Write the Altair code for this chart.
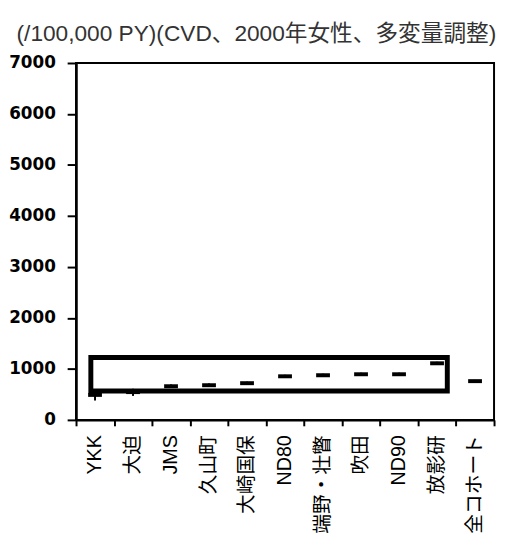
import altair as alt
import pandas as pd

categories = ["YKK", "大迫", "JMS", "久山町", "大崎国保", "ND80", "端野・壮瞥", "吹田", "ND90", "放影研", "全コホート"]
rates = [490, 545, 660, 680, 720, 855, 875, 895, 895, 1110, 760]
ci_low = [380, 470, 625, 645, 690, 825, 845, 865, 865, 1080, 735]
ci_high = [600, 610, 695, 715, 750, 885, 905, 925, 925, 1140, 785]

box_x = [0.39]
box_x2 = [9.77]
box_y = [565]
box_y2 = [1225]

y_ticks = [0, 1000, 2000, 3000, 4000, 5000, 6000, 7000]

df = pd.DataFrame({"cohort": categories, "rate": rates, "lo": ci_low, "hi": ci_high})
box = pd.DataFrame({"x": box_x, "x2": box_x2, "y": box_y, "y2": box_y2})

LATIN_CJK = "Liberation Sans, Noto Sans CJK JP"

x_enc = alt.X(
    "cohort:N",
    sort=categories,
    title=None,
    scale=alt.Scale(paddingInner=0, paddingOuter=0),
    axis=alt.Axis(
        labelAngle=-90,
        labelFont=LATIN_CJK,
        labelFontSize=20,
        labelColor="black",
        labelPadding=9,
        tickBand="extent",
        tickSize=6,
        tickWidth=2,
        tickColor="black",
        domainColor="black",
        domainWidth=2.5,
    ),
)
y_scale = alt.Scale(domain=[0, 7000], nice=False)
y_axis = alt.Axis(
    values=y_ticks,
    format="d",
    grid=False,
    labelFont="DejaVu Sans",
    labelFontWeight="bold",
    labelFontSize=17,
    labelColor="black",
    labelPadding=12,
    tickSize=9,
    tickWidth=2,
    tickColor="black",
    domainColor="black",
    domainWidth=2.5,
)

bars = alt.Chart(df).mark_rule(color="black", strokeWidth=2).encode(
    x=x_enc,
    y=alt.Y("lo:Q", scale=y_scale, axis=y_axis, title=None),
    y2="hi:Q",
)
ticks = alt.Chart(df).mark_tick(color="black", size=14, thickness=4, opacity=1).encode(
    x=x_enc,
    y=alt.Y("rate:Q", scale=y_scale, axis=y_axis, title=None),
)
frame = alt.Chart(box).mark_rect(fillOpacity=0, stroke="black", strokeWidth=5).encode(
    x=alt.X("x:Q", scale=alt.Scale(domain=[0, 11], nice=False, zero=False), axis=None),
    x2="x2:Q",
    y=alt.Y("y:Q", scale=y_scale, axis=y_axis, title=None),
    y2="y2:Q",
)

data_layer = alt.layer(bars, ticks)

chart = (
    alt.layer(data_layer, frame)
    .resolve_scale(x="independent")
    .properties(
        width=424,
        height=362,
        view=alt.ViewBackground(stroke="black", strokeWidth=2, fill="white"),
        padding={"left": 0, "top": 12, "right": 0, "bottom": 0},
        title=alt.TitleParams(
            "(/100,000 PY)(CVD、2000年女性、多変量調整)",
            anchor="start",
            frame="bounds",
            font=LATIN_CJK,
            fontSize=23,
            fontWeight="normal",
            color="#333333",
            offset=8,
            dx=8,
        ),
    )
    .configure_view(stroke="black", strokeWidth=2)
    .configure(background="white")
)

chart.save("out.html", embed_options={"renderer": "svg", "actions": False})
